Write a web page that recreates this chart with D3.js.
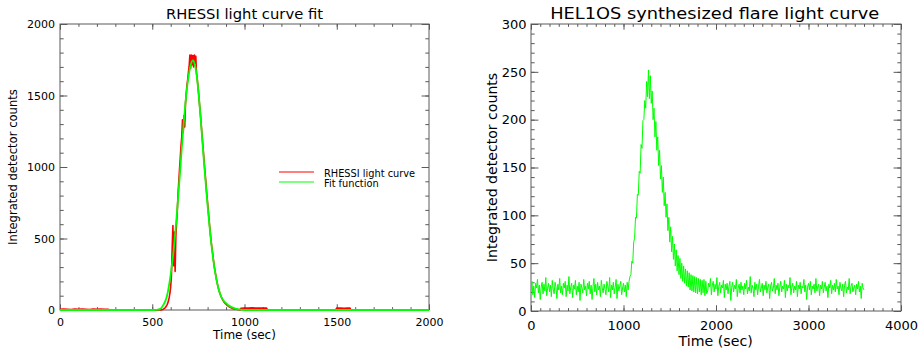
<!DOCTYPE html>
<html><head><meta charset="utf-8">
<script src="https://cdn.jsdelivr.net/npm/d3@7"></script>
<style>
body{margin:0;background:#fff}
svg{display:block}
text{font-family:"DejaVu Sans",sans-serif;fill:#000}
</style>
</head><body>
<svg id="c" width="924" height="354"></svg>
<script>
// ---------------- DATA ----------------
// Left panel: RHESSI light curve (red)
const rhessiPreTime   = [0, 20, 40, 60, 80, 100, 120, 140, 160, 180, 200, 220, 240, 260, 272, 540];
const rhessiPreCounts = [5, 6, 5, 4, 6, 5, 6, 5, 4, 6, 5, 6, 5, 5, 0, 0];
const rhessiPeakStart = 544, rhessiPeakStep = 4;
const rhessiPeakCounts = [
  0, 1, 2, 4, 6, 9, 13, 18, 26, 36, 48, 64, 88, 120, 165, 240, 430, 590, 310, 545,
  270, 520, 610, 700, 815, 900, 985, 1065, 1150, 1210, 1330, 1240, 1360, 1280, 1440, 1510, 1570, 1610, 1660, 1705,
  1783, 1690, 1783, 1715, 1780, 1700, 1783, 1725, 1775, 1655, 1615, 1560, 1505, 1440, 1385, 1320, 1255, 1190, 1125, 1060,
  995, 935, 870, 805, 750, 690, 630, 575, 520, 470, 430, 390, 345, 305, 275, 245, 215, 190, 165, 145,
  128, 112, 98, 86, 75, 66, 58, 51, 45, 40, 35, 31, 27, 23, 20, 17, 15, 13, 11, 9,
  8, 7, 6, 5, 4, 3, 2, 2, 1
];
const rhessiPostTime   = [980, 1000, 1020, 1040, 1060, 1080, 1100, 1120, 1124, 1456, 1460, 1474, 1488, 1492, 1500, 1520, 1540, 1560, 1572, 1576, 1750, 1754, 1800, 1850, 1910, 1914, 2000];
const rhessiPostCounts = [12, 14, 13, 15, 13, 14, 13, 14, 0, 0, -6, -5, -6, 0, 13, 14, 12, 14, 13, 0, 0, -6, -7, -6, -7, 0, 0];

// Left panel: fit function (green)
const fitEdgeTime = [0, 2000];
const fitEdgeCounts = [0, 0];
const fitStart = 500, fitStep = 10;
const fitCounts = [
  0, 0, 1, 2, 6, 15, 35, 60, 100, 165,
  250, 350, 470, 620, 780, 950, 1130, 1300, 1450, 1570,
  1660, 1720, 1745, 1720, 1650, 1530, 1380, 1210, 1040, 880,
  730, 590, 465, 360, 270, 200, 145, 105, 78, 60,
  48, 36, 27, 20, 15, 10, 7, 4, 3, 1,
  0
];

// Right panel: HEL1OS synthesized light curve, 10 s cadence from t = 0
const helStart = 0, helStep = 10;
const helCounts = [
  22, 31, 17, 26, 14, 29, 24, 33, 19, 27, 12, 25, 30, 18, 28, 21, 35, 16, 24, 29,
  20, 27, 15, 32, 23, 18, 30, 25, 13, 28, 22, 34, 19, 26, 17, 29, 24, 31, 15, 27,
  21, 36, 18, 25, 29, 14, 27, 23, 32, 17, 26, 20, 30, 11, 28, 24, 19, 33, 22, 26,
  16, 29, 23, 31, 18, 27, 12, 25, 34, 20, 28, 17, 30, 22, 26, 15, 32, 24, 19, 28,
  23, 17, 31, 26, 20, 35, 14, 27, 22, 30, 18, 25, 33, 13, 28, 21, 26, 31, 17, 24,
  29, 20, 27, 15, 30, 22, 31,
  36, 38, 52, 50, 72, 76, 98, 97, 122, 121, 146, 144, 174, 170, 199, 200, 220, 212, 240, 224,
  252, 222, 246, 217, 230, 200, 212, 182, 198, 168, 182, 152, 168, 138, 152, 124, 140, 110, 124, 98,
  112, 84, 98, 72, 88, 62, 78, 54, 70, 47, 64, 42, 58, 38, 55, 34, 50, 31, 47, 29,
  44, 26, 42, 25, 40, 22, 38, 21, 37, 20, 36, 19, 35, 18, 34, 20, 33, 17, 32, 19,
  33, 16, 31, 18,
  21, 29, 25, 34, 17, 27, 31, 20, 28, 23, 35, 16, 26, 30, 19, 27, 24, 32, 14, 28,
  22, 29, 18, 26, 31, 11, 25, 30, 20, 27, 23, 33, 15, 24, 28, 19, 30, 22, 26, 17,
  29, 23, 32, 18, 25, 21, 36, 19, 27, 24, 15, 30, 22, 28, 17, 26, 33, 20, 24, 29,
  16, 27, 22, 31, 19, 25, 28, 13, 26, 30, 21, 24, 34, 18, 27, 22, 29, 16, 25, 31,
  20, 26, 23, 32, 14, 28, 21, 27, 24, 35, 17, 25, 29, 19, 26, 22, 31, 15, 27, 23,
  30, 18, 26, 24, 33, 20, 27, 12, 25, 29, 22, 31, 17, 26, 23, 28, 19, 34, 21, 25,
  28, 16, 27, 23, 31, 19, 25, 30, 21, 26, 14, 28, 24, 32, 18, 27, 22, 29, 20, 33,
  23, 26, 17, 30, 24, 21, 28, 15, 27, 31, 19, 25, 22, 34, 18, 26, 29, 20, 24, 27,
  17, 28, 23, 31, 20, 26, 13, 29, 24, 22
];

// Axis ticks and labels
const leftXTicks = [0, 500, 1000, 1500, 2000];
const leftYTicks = [0, 500, 1000, 1500, 2000];
const rightXTicks = [0, 1000, 2000, 3000, 4000];
const rightYTicks = [0, 50, 100, 150, 200, 250, 300];
const leftTitle = "RHESSI light curve fit";
const rightTitle = "HEL1OS synthesized flare light curve";
const xLabel = "Time (sec)";
const yLabel = "Integrated detector counts";
const legendLabels = ["RHESSI light curve", "Fit function"];
const legendColors = ["#ff0000", "#00ff00"];

// ---------------- BUILD SERIES ----------------
const rhessi = [];
rhessiPreTime.forEach((t, i) => rhessi.push([t, rhessiPreCounts[i]]));
rhessiPeakCounts.forEach((v, i) => rhessi.push([rhessiPeakStart + i * rhessiPeakStep, v]));
rhessiPostTime.forEach((t, i) => rhessi.push([t, rhessiPostCounts[i]]));
rhessi.sort((a, b) => a[0] - b[0]);

const fit = [[fitEdgeTime[0], fitEdgeCounts[0]]];
fitCounts.forEach((v, i) => fit.push([fitStart + i * fitStep, v]));
fit.push([fitEdgeTime[1], fitEdgeCounts[1]]);

const hel = helCounts.map((v, i) => [helStart + i * helStep, v]);

// ---------------- DRAW ----------------
const svg = d3.select("#c");
const frameColor = "#5a5a5a";

function panel(o) {
  const x = d3.scaleLinear().domain(o.xDomain).range([o.x0, o.x1]);
  const y = d3.scaleLinear().domain(o.yDomain).range([o.y1, o.y0]);
  const g = svg.append("g");
  const id = "clip" + o.name;
  svg.append("defs").append("clipPath").attr("id", id).append("rect")
    .attr("x", o.x0).attr("y", o.y0 - 1).attr("width", o.x1 - o.x0).attr("height", o.y1 - o.y0 + 2);

  const xl = 0.02 * (o.y1 - o.y0), yl = 0.02 * (o.x1 - o.x0);
  const xMinor = d3.range(o.xDomain[0], o.xDomain[1] + 1e-9, o.xMinorStep);
  const yMinor = d3.range(o.yDomain[0], o.yDomain[1] + 1e-9, o.yMinorStep);

  function styleAxis(sel, fs) {
    sel.select(".domain").remove();
    sel.selectAll("line").attr("stroke", frameColor).attr("stroke-width", 1);
    sel.selectAll("text").attr("font-family", "DejaVu Sans").attr("font-size", fs).attr("fill", "#000");
    sel.attr("font-family", null).attr("font-size", null);
  }
  // bottom
  g.append("g").attr("transform", `translate(0,${o.y1})`)
    .call(d3.axisBottom(x).tickValues(xMinor).tickSize(-xl / 2).tickFormat(""))
    .call(s => styleAxis(s, o.tickFs));
  g.append("g").attr("transform", `translate(0,${o.y1})`)
    .call(d3.axisBottom(x).tickValues(o.xTicks).tickSize(-xl).tickPadding(o.xPad).tickFormat(d3.format("d")))
    .call(s => styleAxis(s, o.tickFs));
  // top
  g.append("g").attr("transform", `translate(0,${o.y0})`)
    .call(d3.axisTop(x).tickValues(xMinor).tickSize(-xl / 2).tickFormat(""))
    .call(s => styleAxis(s, o.tickFs));
  g.append("g").attr("transform", `translate(0,${o.y0})`)
    .call(d3.axisTop(x).tickValues(o.xTicks).tickSize(-xl).tickFormat(""))
    .call(s => styleAxis(s, o.tickFs));
  // left
  g.append("g").attr("transform", `translate(${o.x0},0)`)
    .call(d3.axisLeft(y).tickValues(yMinor).tickSize(-yl / 2).tickFormat(""))
    .call(s => styleAxis(s, o.tickFs));
  g.append("g").attr("transform", `translate(${o.x0},0)`)
    .call(d3.axisLeft(y).tickValues(o.yTicks).tickSize(-yl).tickPadding(o.yPad).tickFormat(d3.format("d")))
    .call(s => styleAxis(s, o.tickFs));
  // right
  g.append("g").attr("transform", `translate(${o.x1},0)`)
    .call(d3.axisRight(y).tickValues(yMinor).tickSize(-yl / 2).tickFormat(""))
    .call(s => styleAxis(s, o.tickFs));
  g.append("g").attr("transform", `translate(${o.x1},0)`)
    .call(d3.axisRight(y).tickValues(o.yTicks).tickSize(-yl).tickFormat(""))
    .call(s => styleAxis(s, o.tickFs));

  g.append("rect").attr("x", o.x0).attr("y", o.y0).attr("width", o.x1 - o.x0).attr("height", o.y1 - o.y0)
    .attr("fill", "none").attr("stroke", frameColor).attr("stroke-width", 1);

  // titles and labels
  g.append("text").attr("x", o.titleX).attr("y", o.titleY).attr("text-anchor", "middle")
    .attr("font-size", o.titleFs).attr("textLength", o.titleLen).attr("lengthAdjust", "spacingAndGlyphs")
    .text(o.title);
  g.append("text").attr("x", o.xLabX).attr("y", o.xLabY).attr("text-anchor", "middle")
    .attr("font-size", o.labFs).text(xLabel);
  g.append("text").attr("transform", `translate(${o.yLabX},${(o.y0 + o.y1) / 2}) rotate(-90)`)
    .attr("text-anchor", "middle").attr("font-size", o.yLabFs).text(yLabel);

  return {x, y, clip: id};
}

// Left panel
const L = panel({
  name: "L", x0: 60, x1: 429, y0: 24, y1: 310,
  xDomain: [0, 2000], yDomain: [0, 2000], xMinorStep: 100, yMinorStep: 100,
  xTicks: leftXTicks, yTicks: leftYTicks, tickFs: 11, xPad: 8, yPad: 5,
  title: leftTitle, titleX: 244.5, titleY: 19, titleFs: 14.5, titleLen: 157,
  xLabX: 244.5, xLabY: 339, labFs: 12, yLabX: 17, yLabFs: 11.6
});
const lineL = d3.line().x(d => L.x(d[0])).y(d => L.y(d[1]));
svg.append("path").datum(rhessi).attr("clip-path", `url(#${L.clip})`)
  .attr("d", lineL).attr("fill", "none").attr("stroke", "#ff0000").attr("stroke-width", 1.6).attr("stroke-linejoin", "round");
svg.append("path").datum(fit).attr("clip-path", `url(#${L.clip})`)
  .attr("d", lineL.curve(d3.curveMonotoneX)).attr("fill", "none").attr("stroke", "#00ff00").attr("stroke-width", 1.8);

// legend
const leg = svg.append("g");
legendLabels.forEach((lab, i) => {
  const yy = 172 + i * 10;
  leg.append("line").attr("x1", 279).attr("x2", 314).attr("y1", yy).attr("y2", yy)
    .attr("stroke", legendColors[i]).attr("stroke-width", 1);
  leg.append("text").attr("x", 324).attr("y", yy + 4.5).attr("font-size", 9.8).text(lab);
});

// Right panel
const R = panel({
  name: "R", x0: 531, x1: 901, y0: 24, y1: 311,
  xDomain: [0, 4000], yDomain: [0, 300], xMinorStep: 100, yMinorStep: 10,
  xTicks: rightXTicks, yTicks: rightYTicks, tickFs: 13, xPad: 9.5, yPad: 4.5,
  title: rightTitle, titleX: 714.7, titleY: 18.5, titleFs: 16, titleLen: 329,
  xLabX: 715.7, xLabY: 346, labFs: 14.2, yLabX: 497, yLabFs: 14.1
});
const lineR = d3.line().x(d => R.x(d[0])).y(d => R.y(d[1]));
svg.append("path").datum(hel).attr("clip-path", `url(#${R.clip})`)
  .attr("d", lineR).attr("fill", "none").attr("stroke", "#00ff00").attr("stroke-width", 1);
</script>
</body></html>
